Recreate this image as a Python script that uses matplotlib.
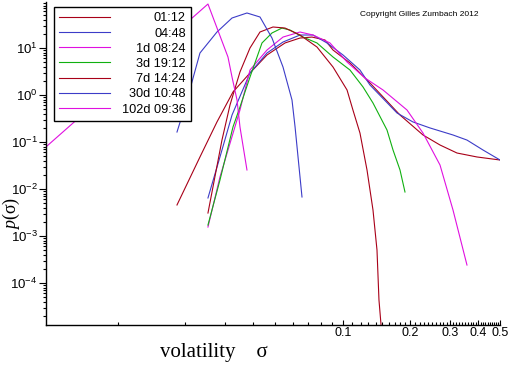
import matplotlib
matplotlib.use("Agg")
import matplotlib.pyplot as plt
from matplotlib.ticker import FixedLocator, NullFormatter, FixedFormatter, LogLocator

plt.rcParams['font.family'] = ['Liberation Sans', 'DejaVu Sans']
plt.rcParams['mathtext.fontset'] = 'custom'
plt.rcParams['mathtext.rm'] = 'Liberation Sans'
plt.rcParams['mathtext.it'] = 'Liberation Serif:italic'

labels = ["01:12", "04:48", "1d 08:24", "3d 19:12", "7d 14:24", "30d 10:48", "102d 09:36"]
colors = ["#a80018", "#3c3cc8", "#e010e0", "#10b010", "#a80018", "#3c3cc8", "#e010e0"]

s_0112 = [0.01834, 0.0232, 0.02761, 0.03253, 0.03871, 0.04607, 0.05539, 0.06457, 0.073, 0.08341,
          0.09053, 0.1077, 0.1322, 0.1797, 0.2274, 0.2706, 0.322, 0.3952, 0.5]
p_0112 = [0.00457, 0.048, 0.267, 1.16, 2.94, 7.10, 12.8, 16.3, 17.1, 14.8,
          9.06, 4.80, 1.80, 0.375, 0.141, 0.0863, 0.0583, 0.048, 0.0414]

s_0448 = [0.02518, 0.02847, 0.03221, 0.03871, 0.04607, 0.05427, 0.06457, 0.07376, 0.08513, 0.1003,
          0.1193, 0.1322, 0.1743, 0.2052, 0.2443, 0.3091, 0.3566, 0.4201, 0.5]
p_0448 = [0.00644, 0.048, 0.375, 2.94, 7.83, 13.4, 18.9, 18.9, 12.8, 7.10,
          3.40, 1.63, 0.414, 0.267, 0.199, 0.141, 0.110, 0.0676, 0.0414]

s_1d = [0.02518, 0.02847, 0.03494, 0.03871, 0.04607, 0.05427, 0.06457, 0.07376, 0.08778, 0.1045,
        0.1256, 0.151, 0.193, 0.2274, 0.2706, 0.3091, 0.3566]
p_1d = [0.00155, 0.0180, 0.480, 3.40, 9.06, 17.1, 21.9, 18.9, 12.8, 5.04,
        2.30, 1.28, 0.480, 0.155, 0.0324, 0.00357, 0.000241]

s_3d = [0.02518, 0.02847, 0.03253, 0.03494, 0.03871, 0.04377, 0.04849, 0.0537, 0.0583, 0.06658,
        0.07683, 0.09053, 0.1077, 0.1231, 0.1363, 0.1573, 0.1673, 0.1797, 0.1891]
p_3d = [0.00171, 0.0155, 0.209, 0.556, 2.41, 12.8, 20.9, 26.6, 24.1, 17.1,
        12.8, 6.44, 3.40, 1.48, 0.676, 0.180, 0.0676, 0.0254, 0.00863]

s_7d = [0.02518, 0.0265, 0.02906, 0.03155, 0.03494, 0.03871, 0.04288, 0.04899, 0.05539, 0.06457,
        0.07683, 0.09053, 0.1045, 0.111, 0.1193, 0.1282, 0.1363, 0.142, 0.1449, 0.148, 0.151]
p_7d = [0.00308, 0.0110, 0.110, 0.613, 3.09, 10.0, 21.9, 28.0, 26.6, 18.9,
        10.5, 3.94, 1.28, 0.480, 0.155, 0.0254, 0.00357, 5.03e-4, 4.35e-5, 1.28e-5, 1e-6]

s_30d = [0.01834, 0.02032, 0.0232, 0.02761, 0.03221, 0.03753, 0.04288, 0.04849, 0.05427, 0.0595, 0.0614, 0.06591]
p_30d = [0.163, 0.783, 7.83, 21.9, 43.5, 55.6, 45.7, 16.3, 3.94, 0.783, 0.209, 0.00676]

s_102d = [0.00485, 0.02518, 0.0309, 0.03221, 0.0339, 0.03494, 0.03753]
p_102d = [0.0822, 86.3, 6.44, 2.41, 0.783, 0.209, 0.0254]

series = [(s_0112, p_0112), (s_0448, p_0448), (s_1d, p_1d), (s_3d, p_3d),
          (s_7d, p_7d), (s_30d, p_30d), (s_102d, p_102d)]

x_major = [0.1, 0.2, 0.3, 0.4, 0.5]
x_major_labels = ["0.1", "0.2", "0.3", "0.4", "0.5"]
x_minor = [0.01, 0.02, 0.03, 0.04, 0.05, 0.06, 0.07, 0.08, 0.09] + [round(0.1 + 0.01 * i, 2) for i in range(1, 40)]

fig = plt.figure(figsize=(5.12, 3.66), dpi=100)
ax = fig.add_axes([46 / 512, 41 / 366, 454 / 512, 323 / 366])
ax.set_xscale('log')
ax.set_yscale('log')

for (s, p), lab, c in zip(series, labels, colors):
    ax.plot(s, p, color=c, lw=0.8, label=lab)

ax.set_xlim(0.0048, 0.5)
ax.set_ylim(10 ** -4.894, 10 ** 1.979)

for sp in ['top', 'right']:
    ax.spines[sp].set_visible(False)
for sp in ['left', 'bottom']:
    ax.spines[sp].set_linewidth(1.0)

ax.xaxis.set_major_locator(FixedLocator(x_major))
ax.xaxis.set_major_formatter(FixedFormatter(x_major_labels))
ax.xaxis.set_minor_locator(FixedLocator(x_minor))
ax.xaxis.set_minor_formatter(NullFormatter())
ax.tick_params(axis='x', which='major', direction='in', length=3.5, width=0.8, labelsize=9, pad=1.5)
ax.tick_params(axis='x', which='minor', direction='in', length=2.5, width=0.8)

ax.yaxis.set_major_locator(LogLocator(base=10, numticks=20))
ax.yaxis.set_minor_locator(LogLocator(base=10, subs=range(2, 10), numticks=20))
ax.yaxis.set_minor_formatter(NullFormatter())
ax.tick_params(axis='y', which='major', direction='out', length=5, width=0.8, labelsize=9.5, pad=1)
ax.tick_params(axis='y', which='minor', direction='out', length=2.5, width=0.8)

leg = ax.legend(loc='upper left', bbox_to_anchor=(0.0176, 0.9845), borderaxespad=0,
                fontsize=9.2, handlelength=4.0, handletextpad=0.9, labelspacing=0.25,
                borderpad=0.42, fancybox=False, frameon=True, framealpha=1)
leg.get_frame().set_edgecolor('black')
leg.get_frame().set_linewidth(1.0)
for line in leg.get_lines():
    line.set_linewidth(0.8)

fig.canvas.draw()
renderer = fig.canvas.get_renderer()
texts = leg.get_texts()
widths = [t.get_window_extent(renderer).width for t in texts]
maxw = max(widths)
for t, w in zip(texts, widths):
    t.set_x(maxw - w)

fig.text(11 / 512, 1 - 213 / 366, r'$\mathit{p}$(σ)', rotation=90, ha='center', va='center',
         fontsize=13, family=['Liberation Serif', 'DejaVu Serif'])
fig.text(160 / 512, 1 - 352 / 366, 'volatility    σ', ha='left', va='center',
         fontsize=15, family=['Liberation Serif', 'DejaVu Serif'])
fig.text(419 / 512, 1 - 15 / 366, 'Copyright Gilles Zumbach 2012', ha='center', va='center', fontsize=6)

fig.savefig('out.png', dpi=100)
